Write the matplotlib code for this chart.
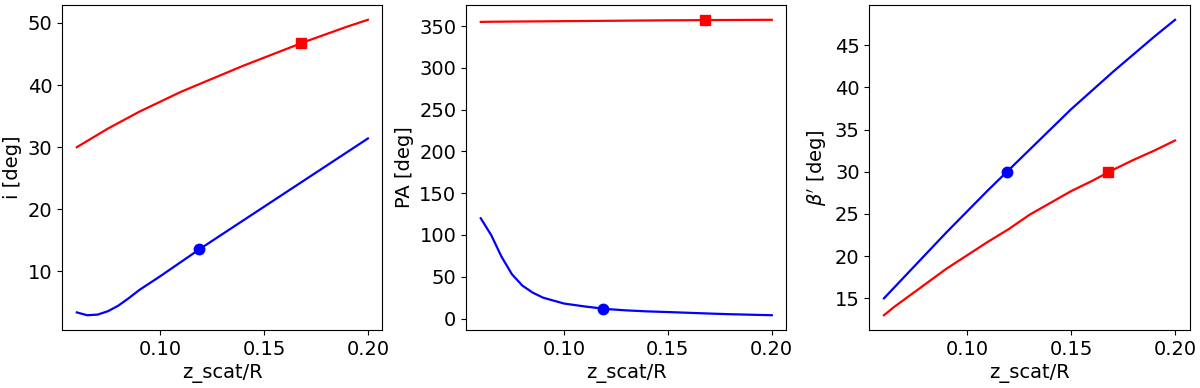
import matplotlib
matplotlib.use("Agg")
import matplotlib.pyplot as plt

z = [0.06, 0.065, 0.07, 0.075, 0.08, 0.085, 0.09, 0.10, 0.11, 0.12, 0.13, 0.14,
     0.15, 0.16, 0.17, 0.18, 0.19, 0.20]

i_red = [30.0, 31.0, 32.0, 33.0, 33.9, 34.8, 35.7, 37.3, 38.9, 40.3, 41.7, 43.1,
         44.4, 45.7, 47.0, 48.2, 49.4, 50.5]
i_blue = [3.4, 2.95, 3.05, 3.6, 4.5, 5.7, 7.0, 9.2, 11.5, 13.8, 16.0, 18.2,
          20.4, 22.6, 24.8, 27.0, 29.2, 31.4]

pa_red = [355.0, 355.2, 355.3, 355.4, 355.5, 355.6, 355.7, 355.9, 356.1, 356.3, 356.5, 356.7,
          356.9, 357.0, 357.2, 357.3, 357.4, 357.5]
pa_blue = [120.0, 100.0, 74.0, 53.0, 39.5, 31.0, 25.0, 18.0, 14.5, 11.5, 9.8, 8.6,
           7.8, 6.9, 6.0, 5.2, 4.6, 4.0]

b_red = [13.0, 14.0, 14.9, 15.8, 16.7, 17.6, 18.5, 20.1, 21.7, 23.2, 24.9, 26.3,
         27.7, 28.9, 30.2, 31.4, 32.5, 33.7]
b_blue = [15.0, 16.3, 17.6, 18.9, 20.2, 21.5, 22.8, 25.3, 27.8, 30.2, 32.6, 35.0,
          37.4, 39.6, 41.8, 43.9, 46.0, 48.0]

mark_blue_z = 0.119
mark_red_z = 0.168
i_marks = (13.6, 46.8)
pa_marks = (11.0, 357.0)
b_marks = (30.0, 30.0)

ylabels = ["i [deg]", "PA [deg]", r"$\beta'$ [deg]"]
xlabel = "z_scat/R"

fig = plt.figure(figsize=(12, 3.88), dpi=100)
lefts = [0.0519, 0.3885, 0.7245]
width = 0.2668
bottom = 0.1495
height = 0.8375

panels = [(i_red, i_blue, i_marks, [10, 20, 30, 40, 50]),
          (pa_red, pa_blue, pa_marks, [0, 50, 100, 150, 200, 250, 300, 350]),
          (b_red, b_blue, b_marks, [15, 20, 25, 30, 35, 40, 45])]

for k, (red, blue, marks, yt) in enumerate(panels):
    ax = fig.add_axes([lefts[k], bottom, width, height])
    ax.plot(z, red, color="red", lw=1.6)
    ax.plot(z, blue, color="blue", lw=1.6)
    ax.plot([mark_blue_z], [marks[0]], "o", color="blue", ms=7.5)
    ax.plot([mark_red_z], [marks[1]], "s", color="red", ms=7)
    ax.set_xticks([0.10, 0.15, 0.20])
    ax.set_yticks(yt)
    ax.tick_params(labelsize=14)
    ax.set_xlabel(xlabel, fontsize=14)
    ax.set_ylabel(ylabels[k], fontsize=14)

fig.savefig("out.png", dpi=100)
